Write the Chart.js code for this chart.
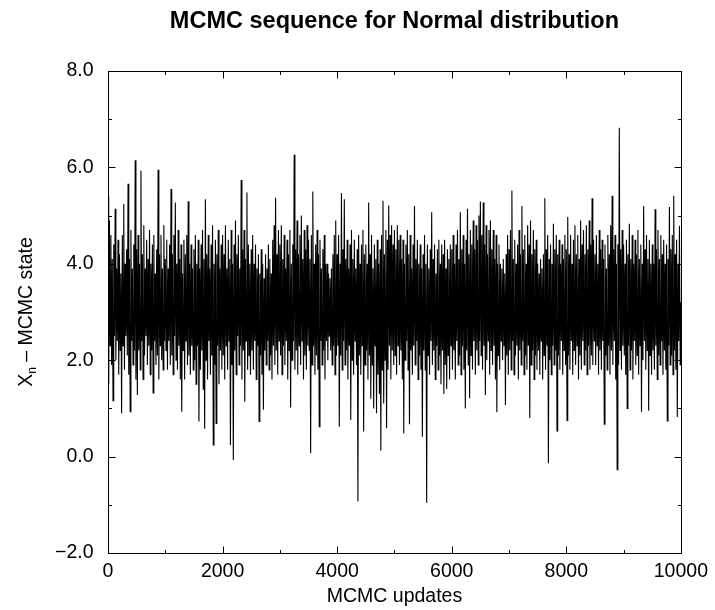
<!DOCTYPE html>
<html>
<head>
<meta charset="utf-8">
<script src="https://cdn.jsdelivr.net/npm/chart.js@4.4.1/dist/chart.umd.min.js"></script>
<style>
  html, body { margin: 0; padding: 0; background: #fff; }
  canvas { display: block; }
</style>
</head>
<body>
<canvas id="myChart" width="715" height="610"></canvas>
<script>
// one value every 12.5 updates; each row is 500 updates
const STEP = 12.5;
const stateValues = [
  5.4,1.5, 4.9,2.3, 4.6,1.9, 4.1,1.16, 4.4,2.5, 5.14,2.0, 3.9,2.4, 4.5,1.7, 4.2,2.2, 3.8,0.9, 4.6,2.3, 5.24,1.8, 4.0,2.5, 4.3,2.1, 5.66,1.7, 4.1,0.93, 4.7,2.4, 3.9,1.9, 4.4,2.2, 6.15,1.6,
  4.3,1.28, 4.6,2.2, 4.0,1.8, 5.93,2.4, 4.2,1.6, 4.8,2.1, 3.9,2.5, 4.5,1.9, 4.1,2.3, 4.7,1.7, 4.0,2.2, 4.4,1.32, 4.6,2.4, 3.8,1.9, 4.3,2.1, 5.95,1.6, 4.2,2.3, 4.6,2.0, 3.9,1.8, 4.8,2.4,
  4.1,2.2, 4.5,1.8, 3.9,2.4, 4.4,1.9, 5.55,2.1, 4.2,1.7, 4.6,2.5, 5.27,2.0, 4.0,1.8, 4.7,2.3, 4.1,1.6, 4.4,0.93, 3.8,2.2, 4.5,1.6, 4.2,2.4, 4.6,1.9, 5.3,2.1, 4.0,1.7, 4.4,2.3, 3.9,1.8,
  4.3,2.0, 4.6,1.5, 4.0,2.3, 4.5,0.73, 3.9,1.8, 4.4,2.2, 4.7,1.4, 4.1,0.58, 5.34,2.0, 4.2,1.6, 4.6,2.4, 3.9,1.7, 4.4,2.1, 4.8,0.24, 4.0,1.9, 4.5,0.69, 4.2,2.3, 4.7,1.5, 3.9,2.2, 4.4,1.8,
  4.6,2.1, 4.2,1.6, 4.8,2.3, 3.9,1.8, 4.5,2.4, 4.1,0.24, 4.7,1.9, 4.0,-0.07, 4.4,2.2, 4.9,1.7, 4.2,2.5, 4.6,1.9, 3.9,2.3, 5.74,1.6, 4.3,2.2, 4.7,1.14, 4.1,2.4, 5.48,1.8, 4.4,2.1, 4.0,1.7,
  4.3,2.2, 4.6,1.8, 4.0,2.4, 4.4,1.6, 3.9,2.3, 4.2,0.73, 3.8,2.1, 4.3,1.7, 4.0,0.97, 3.7,2.2, 4.2,1.9, 3.9,2.4, 4.4,1.8, 4.1,2.1, 3.8,1.6, 4.5,2.3, 4.8,1.9, 5.37,2.2, 4.2,1.7, 4.7,2.4,
  4.4,2.1, 4.8,1.7, 4.1,2.3, 4.6,1.9, 3.9,2.4, 4.5,1.6, 4.2,2.2, 4.7,1.02, 4.0,2.0, 4.4,2.4, 6.26,1.8, 4.3,2.2, 4.9,1.7, 4.2,2.3, 4.6,1.9, 5.0,2.4, 4.1,1.6, 4.7,2.1, 4.3,1.8, 4.8,2.3,
  4.5,2.2, 4.1,0.07, 4.6,1.9, 5.5,2.3, 4.0,1.7, 4.4,2.1, 4.7,1.8, 4.2,0.62, 4.5,2.4, 3.9,1.9, 4.3,2.2, 4.6,1.6, 4.0,2.4, 4.0,2.0, 3.8,2.5, 3.7,2.2, 3.9,1.9, 4.2,2.3, 4.6,1.7, 4.9,2.1,
  4.2,2.3, 4.6,0.62, 4.0,2.1, 5.47,1.8, 4.3,2.4, 5.34,1.9, 4.1,2.2, 4.5,1.6, 3.9,2.3, 4.4,0.76, 4.7,2.0, 4.1,1.7, 4.5,2.4, 3.9,1.9, 4.3,-0.93, 4.6,2.1, 4.0,1.7, 4.4,2.3, 4.7,0.52, 4.2,1.9,
  4.4,2.2, 4.0,1.6, 5.27,2.1, 4.2,1.2, 4.6,1.9, 3.9,1.0, 4.4,2.3, 4.1,0.9, 4.5,1.7, 4.0,1.3, 4.3,0.12, 4.6,1.8, 5.31,1.1, 4.2,2.0, 4.7,0.59, 4.5,1.8, 5.21,2.3, 4.6,1.6, 4.8,2.2, 4.4,1.9,
  4.7,2.1, 4.3,1.7, 4.8,2.3, 4.5,1.9, 4.6,2.2, 4.1,1.6, 4.5,0.48, 4.0,2.0, 4.4,2.4, 4.7,1.8, 4.2,0.67, 4.6,2.2, 3.9,1.7, 4.4,2.3, 5.2,1.9, 4.1,2.4, 4.5,1.6, 4.0,2.1, 4.4,1.8, 3.9,0.41,
  4.2,2.2, 4.6,1.8, 4.0,-0.96, 4.4,2.1, 3.9,1.7, 4.3,2.4, 5.07,1.9, 4.1,2.2, 4.4,1.6, 3.8,2.3, 4.3,1.8, 4.5,2.1, 4.0,1.5, 4.4,2.2, 4.2,1.3, 4.5,1.9, 3.9,1.4, 4.3,2.1, 4.1,1.6, 4.4,2.3,
  4.3,1.8, 4.6,2.2, 4.0,1.6, 4.4,2.4, 4.7,1.9, 4.1,2.1, 5.07,1.7, 4.3,2.3, 4.6,1.8, 4.0,1.0, 4.5,2.2, 5.14,1.9, 4.2,1.21, 4.7,2.1, 4.4,1.8, 4.9,2.4, 4.3,1.7, 4.8,2.2, 4.5,1.9, 5.0,2.4,
  5.29,2.1, 4.6,1.8, 5.27,2.3, 4.4,1.28, 4.8,2.0, 4.2,2.4, 4.7,1.7, 4.9,2.2, 4.3,1.9, 4.7,2.3, 4.1,1.6, 4.6,0.92, 4.0,2.1, 4.4,1.8, 4.0,2.4, 3.9,2.0, 4.1,2.3, 3.8,1.07, 4.2,2.1, 4.6,1.7,
  4.3,2.2, 4.7,1.8, 5.52,2.4, 4.1,1.7, 4.5,2.1, 4.0,2.3, 4.4,1.6, 4.7,2.2, 4.2,1.9, 5.2,2.4, 4.3,1.7, 4.6,2.1, 4.0,1.8, 4.8,2.3, 4.4,0.8, 4.9,1.9, 4.2,2.2, 4.7,1.6, 4.3,2.1, 4.5,1.8,
  4.0,2.2, 3.8,1.7, 4.1,2.4, 3.9,1.6, 4.2,2.1, 5.36,1.8, 4.3,2.3, 4.6,-0.14, 4.1,2.0, 4.4,1.7, 4.0,2.3, 4.83,1.9, 4.3,2.2, 4.6,0.53, 4.2,2.1, 4.5,1.8, 4.0,2.4, 4.4,1.7, 4.1,2.2, 4.6,1.9,
  4.3,0.75, 4.97,2.1, 4.2,1.8, 4.6,2.4, 4.0,1.7, 4.5,2.2, 4.8,1.9, 4.2,2.3, 4.6,1.6, 4.1,2.1, 4.9,1.8, 4.4,2.4, 4.7,1.9, 4.2,2.2, 4.8,1.7, 4.3,2.3, 4.9,1.8, 4.4,2.1, 5.36,1.9, 4.5,2.4,
  4.2,1.9, 4.6,2.3, 4.0,1.7, 4.7,2.2, 4.3,1.8, 4.5,2.4, 4.1,0.67, 4.4,2.1, 3.9,1.8, 4.6,2.3, 4.2,1.7, 4.8,2.2, 5.41,1.9, 4.3,2.4, 4.6,1.6, 4.0,-0.27, 4.4,1.9, 6.82,2.2, 4.3,1.8, 4.7,2.3,
  4.4,2.1, 4.0,1.7, 4.5,1.0, 4.2,2.3, 4.83,1.8, 4.1,2.2, 4.6,1.6, 4.0,2.4, 4.5,1.9, 4.2,2.1, 4.7,1.7, 4.1,2.3, 4.4,0.93, 4.0,2.0, 5.2,2.4, 4.3,1.8, 4.6,2.2, 4.1,0.95, 4.5,2.1, 4.0,1.7,
  4.4,2.2, 4.0,1.8, 5.13,2.3, 4.3,1.6, 4.7,2.1, 4.1,1.9, 4.6,2.4, 4.2,1.7, 4.5,2.2, 4.0,1.8, 4.4,0.74, 4.1,2.3, 5.18,1.9, 4.3,2.1, 4.6,1.7, 5.41,2.2, 4.2,1.8, 4.5,0.82, 4.0,2.4, 4.79,1.9,
  3.2
];

const xTickValues = [0, 2000, 4000, 6000, 8000, 10000];
const xMinorTicks = [1000, 3000, 5000, 7000, 9000];
const yTickValues = [-2, 0, 2, 4, 6, 8];
const yMinorTicks = [-1, 1, 3, 5, 7];

const FONT = '"Liberation Sans", Arial, Helvetica, sans-serif';

const points = stateValues.map((v, i) => ({ x: i * STEP, y: v }));

// box round the plot with inward ticks on all four sides
const frameTicks = {
  id: 'frameTicks',
  afterDatasetsDraw(chart) {
    const { ctx, chartArea: a, scales: { x, y } } = chart;
    const L = Math.round(a.left) + 0.5, R = Math.round(a.right) + 0.5;
    const T = Math.round(a.top) + 0.5, B = Math.round(a.bottom) + 0.5;
    ctx.save();
    ctx.strokeStyle = '#000';
    ctx.lineWidth = 1;
    ctx.strokeRect(L, T, R - L, B - T);
    ctx.beginPath();
    const xt = (v, len) => {
      const px = Math.round(x.getPixelForValue(v)) + 0.5;
      ctx.moveTo(px, B); ctx.lineTo(px, B - len);
      ctx.moveTo(px, T); ctx.lineTo(px, T + len);
    };
    const yt = (v, len) => {
      const py = Math.round(y.getPixelForValue(v)) + 0.5;
      ctx.moveTo(L, py); ctx.lineTo(L + len, py);
      ctx.moveTo(R, py); ctx.lineTo(R - len, py);
    };
    xTickValues.forEach(v => xt(v, 7));
    xMinorTicks.forEach(v => xt(v, 3.5));
    yTickValues.forEach(v => yt(v, 7));
    yMinorTicks.forEach(v => yt(v, 3.5));
    ctx.stroke();
    ctx.restore();
  }
};

// y title with a subscript n
const yTitle = {
  id: 'yTitle',
  afterDraw(chart) {
    const { ctx, chartArea: a } = chart;
    const big = '19.5px ' + FONT;
    const small = '12px ' + FONT;
    ctx.save();
    ctx.translate(32, (a.top + a.bottom) / 2);
    ctx.rotate(-Math.PI / 2);
    ctx.fillStyle = '#000';
    ctx.textBaseline = 'alphabetic';
    ctx.textAlign = 'left';
    ctx.font = big;
    const wX = ctx.measureText('X').width;
    const rest = ' \u2013 MCMC state';
    const wRest = ctx.measureText(rest).width;
    ctx.font = small;
    const wN = ctx.measureText('n').width;
    let x0 = -(wX + wN + wRest) / 2;
    ctx.font = big;
    ctx.fillText('X', x0, 0);
    ctx.font = small;
    ctx.fillText('n', x0 + wX, 4);
    ctx.font = big;
    ctx.fillText(rest, x0 + wX + wN, 0);
    ctx.restore();
  }
};

const ctx = document.getElementById('myChart').getContext('2d');
new Chart(ctx, {
  type: 'line',
  data: {
    datasets: [{
      data: points,
      borderColor: '#000',
      borderWidth: 1.1,
      borderJoinStyle: 'miter',
      pointRadius: 0,
      tension: 0,
      fill: false
    }]
  },
  options: {
    responsive: false,
    animation: false,
    devicePixelRatio: 1,
    layout: { padding: { left: 0, right: 29, top: 0, bottom: 0 } },
    plugins: {
      legend: { display: false },
      tooltip: { enabled: false },
      title: {
        display: true,
        text: 'MCMC sequence for Normal distribution',
        fullSize: false,
        color: '#000',
        font: { family: FONT, size: 23.5, weight: 'bold' },
        padding: { top: 7, bottom: 35.8 }
      }
    },
    scales: {
      x: {
        type: 'linear',
        min: 0,
        max: 10000,
        afterBuildTicks: s => { s.ticks = xTickValues.map(v => ({ value: v })); },
        afterFit: s => { s.height = 57; },
        grid: { display: false, drawTicks: false },
        border: { display: false },
        ticks: {
          color: '#000',
          font: { family: FONT, size: 19.5 },
          padding: 7,
          maxRotation: 0,
          autoSkip: false,
          callback: v => String(v)
        },
        title: {
          display: true,
          text: 'MCMC updates',
          color: '#000',
          font: { family: FONT, size: 19.5 },
          padding: { top: 0, bottom: 2 }
        }
      },
      y: {
        min: -2,
        max: 8,
        afterBuildTicks: s => { s.ticks = yTickValues.map(v => ({ value: v })); },
        afterFit: s => { s.width = 108; },
        grid: { display: false, drawTicks: false },
        border: { display: false },
        ticks: {
          color: '#000',
          font: { family: FONT, size: 19.5 },
          padding: 14.5,
          autoSkip: false,
          callback: v => (v < 0 ? '\u2212' + Math.abs(v).toFixed(1) : v.toFixed(1))
        }
      }
    }
  },
  plugins: [frameTicks, yTitle]
});
</script>
</body>
</html>
